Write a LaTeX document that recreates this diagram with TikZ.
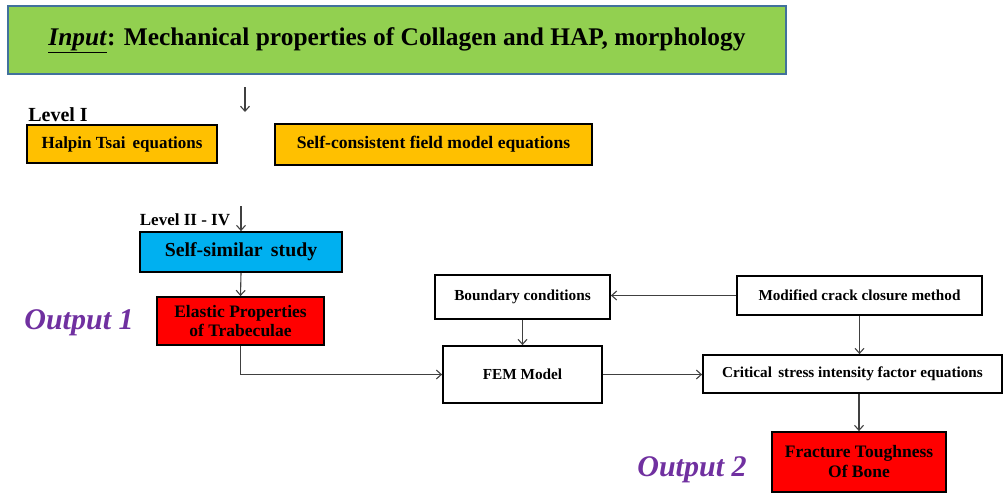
\documentclass[tikz,border=0pt]{standalone}
\usepackage{fontspec}
\setmainfont{Liberation Serif}
\usepackage{tikz}
\usetikzlibrary{arrows.meta}
\definecolor{inputgreen}{HTML}{92D050}
\definecolor{inputedge}{HTML}{41719C}
\definecolor{levelorange}{HTML}{FFC000}
\definecolor{studycyan}{HTML}{00B0F0}
\definecolor{outpurple}{HTML}{7030A0}
\definecolor{arrowgray}{HTML}{404040}
\tikzset{>={Straight Barb[length=5pt,width=9pt]}, line width=1.0pt}
\tikzset{
  box/.style={draw,line width=1.8pt,align=center,inner sep=0pt,font=\bfseries},
  link/.style={->,draw=arrowgray,line width=1.1pt},
  outlabel/.style={text=outpurple,inner sep=0pt,font=\fontsize{30}{33}\selectfont\bfseries\itshape}
}

\begin{document}
\begin{tikzpicture}[x=1pt,y=-1pt]
  \useasboundingbox (0,0) rectangle (1003,495);

  % Input
  \node[box,fill=inputgreen,draw=inputedge,line width=1.5pt,minimum width=778pt,minimum height=68pt,
    font=\fontsize{25.4}{28}\selectfont\bfseries]
    (input) at (397,40) {\underline{\textit{Input}}: Mechanical properties of Collagen and HAP, morphology};
  \coordinate (inA) at (245,87);
  \coordinate (inB) at (245,112);
  \draw[link] (inA) to[] (inB);

  % Level I
  \node[font=\fontsize{20}{22}\selectfont\bfseries,inner sep=0pt] (lvlone) at (58,115) {Level I};
  \node[box,fill=levelorange,minimum width=190pt,minimum height=38pt,
    font=\fontsize{17}{19}\selectfont\bfseries]
    (halpin) at (122,144) {Halpin Tsai\, equations};
  \node[box,fill=levelorange,minimum width=317pt,minimum height=41pt,
    font=\fontsize{17.6}{19}\selectfont\bfseries]
    (selfcons) at (433.5,144.5) {Self-consistent field model equations};

  % Level II - IV
  \node[font=\fontsize{17}{19}\selectfont\bfseries,inner sep=0pt] (lvltwo) at (185,220) {Level II - IV};
  \node[box,fill=studycyan,minimum width=202pt,minimum height=40pt,
    font=\fontsize{19.8}{22}\selectfont\bfseries]
    (selfsim) at (241,252) {Self-similar\, study};
  \coordinate (lvlA) at (241,206);
  \draw[link] (lvlA) to[] (selfsim.north);
  \node[box,fill=red,minimum width=167pt,minimum height=48pt,
    font=\fontsize{17.5}{19.5}\selectfont\bfseries]
    (elastic) at (240.5,321) {Elastic Properties\\of Trabeculae};
  \node[outlabel] (outone) at (79,323) {Output 1};

  % FEM part
  \node[box,minimum width=175pt,minimum height=44pt,
    font=\fontsize{15.3}{17}\selectfont\bfseries]
    (boundary) at (522.5,297) {Boundary conditions};
  \node[box,minimum width=159pt,minimum height=57pt,
    font=\fontsize{15.3}{17}\selectfont\bfseries]
    (fem) at (522.5,374.5) {FEM Model};
  \node[box,minimum width=245pt,minimum height=39pt,
    font=\fontsize{15.2}{17}\selectfont\bfseries]
    (modified) at (859.5,295.5) {Modified crack closure method};
  \node[box,minimum width=299pt,minimum height=38pt,
    font=\fontsize{15.2}{17}\selectfont\bfseries]
    (critical) at (852.5,374) {Critical\, stress intensity factor equations};
  \node[box,fill=red,minimum width=174pt,minimum height=60pt,
    font=\fontsize{17.5}{20}\selectfont\bfseries]
    (fracture) at (859,462) {Fracture Toughness\\Of Bone};
  \node[outlabel] (outtwo) at (692,470) {Output 2};

  % connectors
  \draw[link] (selfsim.south) to[] (elastic.north);
  \draw[link] (elastic.south) |- (fem.west);
  \draw[link] (boundary.south) to[] (fem.north);
  \draw[link] (fem.east) to[] (fem.east -| critical.west);
  \draw[link] (modified.west) to[] (modified.west -| boundary.east);
  \draw[link] (modified.south) to[] (modified.south |- critical.north);
  \draw[link] (fracture.north |- critical.south) to[] (fracture.north);
\end{tikzpicture}
\end{document}
